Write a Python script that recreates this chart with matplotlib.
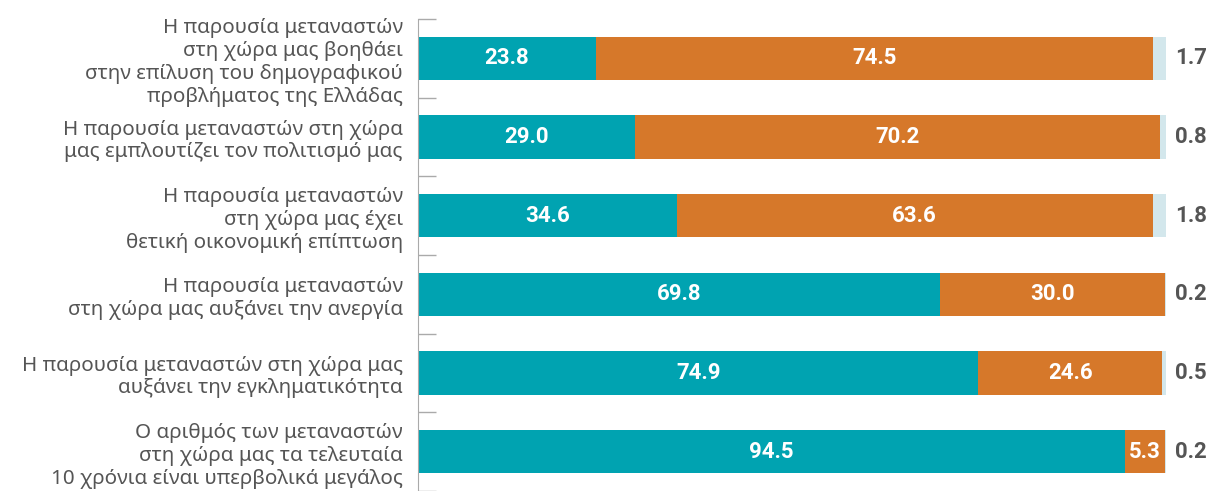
import matplotlib.pyplot as plt
import numpy as np

labels = [
    "Η παρουσία μεταναστών\nστη χώρα μας βοηθάει\nστην επίλυση του δημογραφικού\nπροβλήματος της Ελλάδας",
    "Η παρουσία μεταναστών στη χώρα\nμας εμπλουτίζει τον πολιτισμό μας",
    "Η παρουσία μεταναστών\nστη χώρα μας έχει\nθετική οικονομική επίπτωση",
    "Η παρουσία μεταναστών\nστη χώρα μας αυξάνει την ανεργία",
    "Η παρουσία μεταναστών στη χώρα μας\nαυξάνει την εγκληματικότητα",
    "Ο αριθμός των μεταναστών\nστη χώρα μας τα τελευταία\n10 χρόνια είναι υπερβολικά μεγάλος",
]
disagree = [23.8, 29.0, 34.6, 69.8, 74.9, 94.5]
agree = [74.5, 70.2, 63.6, 30.0, 24.6, 5.3]
no_answer = [1.7, 0.8, 1.8, 0.2, 0.5, 0.2]

teal = "#00A3B1"
orange = "#D6782A"
light = "#D3E7EC"
grey = "#555555"

plt.rcParams['font.family'] = ['Noto Sans', 'DejaVu Sans']
num_font = dict(family=['Roboto', 'DejaVu Sans'], fontsize=16, fontweight='bold')

fig = plt.figure(figsize=(12.14, 4.91), dpi=100)
ax = fig.add_axes([418 / 1214, 0.0, (1166 - 418) / 1214, 1 - 19 / 491])

y = np.arange(len(labels))
h = 0.55
ax.barh(y, disagree, height=h, color=teal)
ax.barh(y, agree, left=disagree, height=h, color=orange)
left3 = np.array(disagree) + np.array(agree)
ax.barh(y, no_answer, left=left3, height=h, color=light)

for i in range(len(labels)):
    ax.text(disagree[i] / 2, y[i], f"{disagree[i]:.1f}", ha='center', va='center',
            color='white', **num_font)
    ax.text(disagree[i] + agree[i] / 2, y[i], f"{agree[i]:.1f}", ha='center', va='center',
            color='white', **num_font)
    ax.text(101.2, y[i], f"{no_answer[i]:.1f}", ha='left', va='center',
            color=grey, **num_font)

ax.set_xlim(0, 100)
ax.set_ylim(len(labels) - 0.5, -0.5)
ax.set_xticks([])
ax.set_yticks(np.arange(len(labels) + 1) - 0.5)
ax.set_yticklabels([])
ax.set_yticks(y, minor=True)
ax.set_yticklabels(labels, minor=True, fontsize=14.8, color=grey, linespacing=1.2)
ax.tick_params(axis='y', which='major', direction='in', length=13, color='#aaaaaa', width=1)
ax.tick_params(axis='y', which='minor', length=0, pad=11)
for lab in ax.get_yticklabels(minor=True):
    lab.set_ha('right')

for s in ['top', 'right', 'bottom']:
    ax.spines[s].set_visible(False)
ax.spines['left'].set_color('#aaaaaa')

plt.savefig("out.png", dpi=100)
